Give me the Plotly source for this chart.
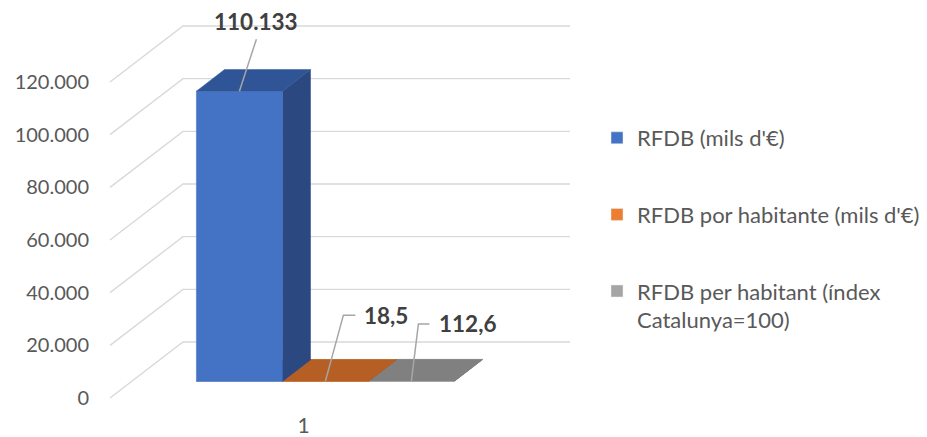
import plotly.graph_objects as go

# ---------------- data ----------------
categories = ["1"]
series_names = [
    "RFDB (mils d'€)",
    "RFDB por habitante (mils d'€)",
    "RFDB per habitant (índex<br>Catalunya=100)",
]
series_values = [110133, 18.5, 112.6]
y_tick_values = [0, 20000, 40000, 60000, 80000, 100000, 120000]

# ---------------- styles ----------------
series_colors = ["#4472C4", "#ED7D31", "#A5A5A5"]
top_colors = ["#2F5597", "#B55F25", "#808080"]
side_colors = ["#2B4881", "#A9571F", "#7A7A7A"]
GRID_COLOR = "#D9D9D9"
LEADER_COLOR = "#A6A6A6"
TEXT_COLOR = "#595959"
LABEL_COLOR = "#404040"
FONT = "Lato"

# ---------------- geometry (pseudo-3D oblique projection) ----------------
# figure is placed at an 8px page offset (default body margin)
W, H = 919, 429
PX_PER_U = 387.0                 # horizontal pixels per category-width unit
PX_PER_V = 316.0 / 120000.0      # vertical pixels per value unit
U0_PX, V0_PX = 102.0, 390.0      # figure pixel of (u=0, v=0) on the front edge
PLOT_L, PLOT_R, PLOT_T, PLOT_B = 82, 582, 0, 403
DEPTH_U = 73.0 / PX_PER_U        # horizontal shift of the back wall (u units)
DEPTH_V = 56.0 / PX_PER_V        # vertical shift of the back wall (value units)
BAR_D0, BAR_D1 = 0.30, 0.685     # depth range occupied by the bars
GAP = 1.0 / 6.0                  # side gap in the category slot


def proj(u, d, v):
    return u + d * DEPTH_U, v + d * DEPTH_V


def du(px):
    return px / PX_PER_U


def dv(px):
    return -px / PX_PER_V


def fmt(v):
    if abs(v) >= 1000:
        return f"{v:,.0f}".replace(",", ".")
    return f"{v:.1f}".replace(".", ",")


fig = go.Figure()

# walls / gridlines
for t in y_tick_values:
    xs, ys = [], []
    for (u, d) in [(0, 0), (0, 1), (1, 1)]:
        x, y = proj(u, d, t)
        xs.append(x)
        ys.append(y)
    fig.add_trace(go.Scatter(x=xs, y=ys, mode="lines",
                             line=dict(color=GRID_COLOR, width=1.4),
                             hoverinfo="skip", showlegend=False))

# bars
n = len(series_values)
bar_w = (1 - 2 * GAP) / n
for i in reversed(range(n)):
    v = series_values[i]
    a = GAP + i * bar_w
    b = a + bar_w
    faces = [
        ([(a, BAR_D0, 0), (b, BAR_D0, 0), (b, BAR_D1, 0), (a, BAR_D1, 0)], top_colors[i]),
        ([(b, BAR_D0, 0), (b, BAR_D1, 0), (b, BAR_D1, v), (b, BAR_D0, v)], side_colors[i]),
        ([(a, BAR_D0, 0), (b, BAR_D0, 0), (b, BAR_D0, v), (a, BAR_D0, v)], series_colors[i]),
        ([(a, BAR_D0, v), (b, BAR_D0, v), (b, BAR_D1, v), (a, BAR_D1, v)], top_colors[i]),
    ]
    for pts, col in faces:
        xs, ys = zip(*[proj(*p) for p in pts])
        fig.add_trace(go.Scatter(x=list(xs) + [xs[0]], y=list(ys) + [ys[0]],
                                 mode="lines", fill="toself", fillcolor=col,
                                 line=dict(color=col, width=0.5),
                                 hoverinfo="skip", showlegend=False))

# data labels with leader lines (offsets in pixels from the bar's front-top centre)
leader_paths = [
    [(0, 0), (17, -52)],
    [(0, 0), (18, -66), (30, -66)],
    [(0, 0), (7, -57), (18, -57)],
]
label_offsets = [(17, -70), (37, -66), (26, -57)]
label_anchor = ["center", "left", "left"]
for i in range(n):
    v = series_values[i]
    a = GAP + i * bar_w
    cx, cy = proj(a + bar_w / 2, BAR_D0, v)
    xs = [cx + du(p[0]) for p in leader_paths[i]]
    ys = [cy + dv(p[1]) for p in leader_paths[i]]
    fig.add_trace(go.Scatter(x=xs, y=ys, mode="lines",
                             line=dict(color=LEADER_COLOR, width=1.5),
                             hoverinfo="skip", showlegend=False))
    ox, oy = label_offsets[i]
    fig.add_annotation(x=cx + du(ox), y=cy + dv(oy), text="<b>" + fmt(v) + "</b>",
                       showarrow=False, xanchor=label_anchor[i], yanchor="middle",
                       font=dict(family=FONT, size=22.5, color=LABEL_COLOR))

# legend entries
for i in range(n):
    fig.add_trace(go.Bar(x=[None], y=[None], name=series_names[i],
                         marker=dict(color=series_colors[i]),
                         legendgroup=f"g{i}", hoverinfo="skip"))

x_rng = [(PLOT_L - U0_PX) / PX_PER_U, (PLOT_R - U0_PX) / PX_PER_U]
y_rng = [(V0_PX - PLOT_B) / PX_PER_V, (V0_PX - PLOT_T) / PX_PER_V]

fig.update_layout(
    width=W, height=H,
    margin=dict(l=PLOT_L, r=W - PLOT_R, t=PLOT_T, b=H - PLOT_B, autoexpand=False),
    paper_bgcolor="white", plot_bgcolor="white",
    separators=",.",
    font=dict(family=FONT, size=21, color=TEXT_COLOR),
    showlegend=True,
    legend=dict(xref="container", yref="container", x=589 / W, y=1 - 109 / H,
                xanchor="left", yanchor="top", valign="top",
                tracegroupgap=45, font=dict(family=FONT, size=22, color=TEXT_COLOR)),
    xaxis=dict(range=x_rng, showgrid=False, zeroline=False, showline=False,
               automargin=False,
               tickvals=[0.5], ticktext=categories, ticks="",
               tickfont=dict(family=FONT, size=21, color=TEXT_COLOR), fixedrange=True),
    yaxis=dict(range=y_rng, showgrid=False, zeroline=False, showline=False,
               automargin=False,
               tickvals=y_tick_values, tickformat=",.0f", ticks="",
               tickfont=dict(family=FONT, size=20, color=TEXT_COLOR), fixedrange=True),
)

fig.write_html("out.html")
